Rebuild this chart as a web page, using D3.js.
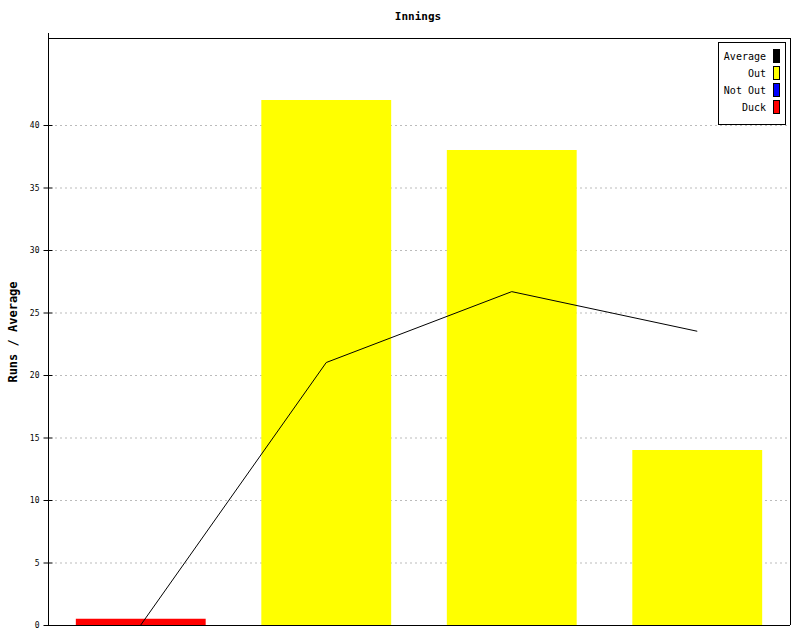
<!DOCTYPE html>
<html><head><meta charset="utf-8">
<script src="https://cdn.jsdelivr.net/npm/d3@7"></script>
<style>body{margin:0;background:#fff}</style>
</head><body>
<script>
const categories = ["1", "2", "3", "4"];
const runs = [0.5, 42, 38, 14];
const kinds = ["Duck", "Out", "Out", "Out"];
const average = [0, 21, 26.67, 23.5];
const yTicks = [0, 5, 10, 15, 20, 25, 30, 35, 40];
const legendItems = ["Average", "Out", "Not Out", "Duck"];
const colors = {Average: "#000000", Out: "#ffff00", "Not Out": "#0000ff", Duck: "#ff0000"};

const W = 800, H = 640;
const m = {left: 48, right: 10, top: 38, bottom: 15};
const svg = d3.select("body").append("svg").attr("width", W).attr("height", H)
  .style("font-family", "'DejaVu Sans Mono', monospace");

const x = d3.scaleBand().domain(categories).range([m.left, W - m.right]).paddingInner(0.3).paddingOuter(0.15);
const y = d3.scaleLinear().domain([0, 46.96]).range([H - m.bottom, m.top]);

// grid
svg.append("g").selectAll("line").data(yTicks.filter(d => d > 0)).join("line")
  .attr("x1", m.left + 7).attr("x2", W - m.right)
  .attr("y1", d => y(d) + 0.5).attr("y2", d => y(d) + 0.5)
  .attr("stroke", "#bbb").attr("stroke-dasharray", "2,3");

// bars
svg.append("g").selectAll("rect").data(runs).join("rect")
  .attr("x", (d, i) => x(categories[i]))
  .attr("width", x.bandwidth())
  .attr("y", d => y(d))
  .attr("height", d => y(0) - y(d))
  .attr("fill", (d, i) => colors[kinds[i]]);

// line
const line = d3.line().x((d, i) => x(categories[i]) + x.bandwidth() / 2).y(d => y(d));
svg.append("path").datum(average).attr("d", line).attr("fill", "none")
  .attr("stroke", "#000").attr("stroke-width", 1);

// frame
svg.append("line").attr("x1", m.left).attr("x2", W - m.right).attr("y1", m.top + 0.5).attr("y2", m.top + 0.5).attr("stroke", "#000");
svg.append("line").attr("x1", W - m.right + 0.5).attr("x2", W - m.right + 0.5).attr("y1", m.top).attr("y2", H - m.bottom).attr("stroke", "#000");

// y axis
const yAxis = d3.axisLeft(y).tickValues(yTicks).tickSize(5).tickPadding(4).tickSizeOuter(0);
const ga = svg.append("g").attr("transform", `translate(${m.left + 0.5},0)`).call(yAxis);
ga.select(".domain").remove();
ga.selectAll(".tick line").attr("x2", 4).attr("x1", -5);
ga.selectAll("text").style("font-size", "8px").style("font-family", "'DejaVu Sans Mono', monospace");
svg.append("line").attr("x1", m.left + 0.5).attr("x2", m.left + 0.5).attr("y1", m.top - 5).attr("y2", H - m.bottom).attr("stroke", "#000");
// x axis
svg.append("line").attr("x1", m.left).attr("x2", W - m.right).attr("y1", H - m.bottom + 0.5).attr("y2", H - m.bottom + 0.5).attr("stroke", "#000");

// title
svg.append("text").attr("x", 418).attr("y", 20).attr("text-anchor", "middle")
  .style("font-size", "11px").style("font-weight", "bold").text("Innings");
svg.append("text").attr("transform", `translate(17,${332}) rotate(-90)`).attr("text-anchor", "middle")
  .style("font-size", "12px").style("font-weight", "bold").text("Runs / Average");

// legend
const lg = svg.append("g");
lg.append("rect").attr("x", 718.5).attr("y", 42.5).attr("width", 67).attr("height", 82)
  .attr("fill", "#fff").attr("stroke", "#000");
legendItems.forEach((k, i) => {
  const cy = 56 + i * 17;
  lg.append("text").attr("x", 766).attr("y", cy + 4).attr("text-anchor", "end")
    .attr("fill", "#000").style("font-size", "10px").text(k);
  lg.append("rect").attr("x", 773.5).attr("y", cy - 6.5).attr("width", 6).attr("height", 13)
    .attr("fill", colors[k]).attr("stroke", "#000");
});
</script>
</body></html>
